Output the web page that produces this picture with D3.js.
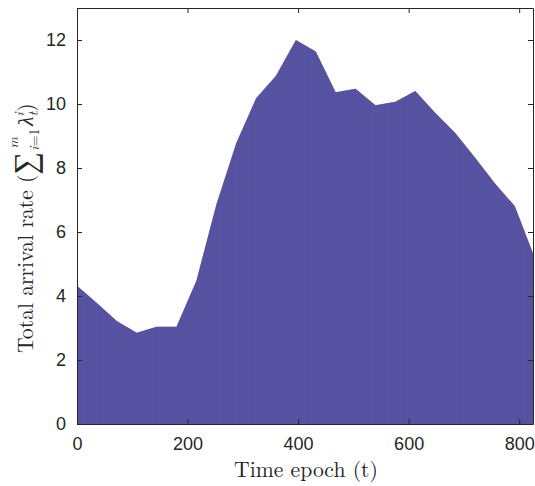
<!DOCTYPE html>
<html>
<head>
<meta charset="utf-8">
<script src="https://d3js.org/d3.v7.min.js"></script>
<style>
  body { margin: 0; background: #fff; }
  svg { display: block; }
</style>
</head>
<body>
<svg id="chart"></svg>
<script>
// hourly vertices of the total arrival rate
const epochs = [0, 36, 72, 108, 144, 180, 216, 252, 288, 324, 360, 396,
                432, 468, 504, 540, 576, 612, 648, 684, 720, 756, 792, 828];
const rates  = [4.32, 3.78, 3.22, 2.85, 3.04, 3.04, 4.48, 6.85, 8.77, 10.18, 10.88, 12.0,
                11.64, 10.37, 10.48, 9.96, 10.07, 10.41, 9.73, 9.1, 8.33, 7.52, 6.81, 5.2];
const xTicks = [0, 200, 400, 600, 800];
const yTicks = [0, 2, 4, 6, 8, 10, 12];

const width = 535, height = 486;
const margin = {top: 8, right: 2, bottom: 62, left: 77};
const innerW = width - margin.left - margin.right;
const innerH = height - margin.top - margin.bottom;

const svg = d3.select('#chart').attr('width', width).attr('height', height);
const chart = svg.append('g').attr('transform', `translate(${margin.left},${margin.top})`);

const x = d3.scaleLinear().domain([0, 825]).range([0, innerW]);
const y = d3.scaleLinear().domain([0, 13]).range([innerH, 0]);

const data = epochs.map((t, i) => ({t: t, v: rates[i]}));

const defs = svg.append('defs');
defs.append('clipPath').attr('id', 'plotclip')
  .append('rect').attr('width', innerW).attr('height', innerH);

const area = d3.area().x(d => x(d.t)).y0(innerH).y1(d => y(d.v));
defs.append('clipPath').attr('id', 'areaclip')
  .append('path').attr('d', area(data));

const body = chart.append('g').attr('clip-path', 'url(#plotclip)');
body.append('path')
  .attr('d', area(data))
  .attr('fill', '#6c69b0');

// thin bar texture (one bar edge per epoch), clipped to the area outline
const stripes = body.append('g').attr('clip-path', 'url(#areaclip)');
stripes.selectAll('line')
  .data(d3.range(0, 826))
  .join('line')
  .attr('x1', t => x(t))
  .attr('x2', t => x(t))
  .attr('y1', 0)
  .attr('y2', innerH)
  .attr('stroke', '#3f3a92')
  .attr('stroke-width', 0.3);

// axes (MATLAB style box with inward ticks)
const axisColor = '#262626';
const tickFont = '"Liberation Sans", Arial, sans-serif';

const xAxis = chart.append('g')
  .attr('transform', `translate(0,${innerH})`)
  .call(d3.axisBottom(x).tickValues(xTicks).tickSizeInner(-5).tickSizeOuter(0).tickPadding(13));
const yAxis = chart.append('g')
  .call(d3.axisLeft(y).tickValues(yTicks).tickSizeInner(-5).tickSizeOuter(0).tickPadding(11));
const xTop = chart.append('g')
  .call(d3.axisTop(x).tickValues(xTicks).tickSizeInner(-5).tickSizeOuter(0).tickFormat(''));
const yRight = chart.append('g')
  .attr('transform', `translate(${innerW},0)`)
  .call(d3.axisRight(y).tickValues(yTicks).tickSizeInner(-5).tickSizeOuter(0).tickFormat(''));

[xAxis, yAxis, xTop, yRight].forEach(g => {
  g.select('.domain').attr('stroke', axisColor).attr('stroke-width', 1);
  g.selectAll('.tick line').attr('stroke', axisColor);
  g.selectAll('.tick text')
    .attr('fill', '#262626')
    .style('font-family', tickFont)
    .style('font-size', '18px');
});

// axis labels
const serif = '"Latin Modern Roman", "CMU Serif", "Liberation Serif", "DejaVu Serif", serif';

svg.append('text')
  .attr('x', 306)
  .attr('y', 477)
  .attr('text-anchor', 'middle')
  .style('font-family', serif)
  .style('font-size', '21.7px')
  .attr('fill', '#262626')
  .text('Time epoch (t)');

const ylab = svg.append('text')
  .attr('transform', 'translate(33,353) rotate(-90)')
  .attr('text-anchor', 'start')
  .style('font-family', serif)
  .style('font-size', '21.7px')
  .attr('fill', '#262626');
ylab.append('tspan').text('Total arrival rate (');
ylab.append('tspan').style('font-size', '32px').attr('dy', 3).text('\u2211');
ylab.append('tspan').style('font-size', '14px').style('font-style', 'italic').attr('dx', 1).attr('dy', 3).text('i');
ylab.append('tspan').style('font-size', '14px').text('=1');
ylab.append('tspan').style('font-size', '14px').style('font-style', 'italic').attr('dx', -20).attr('dy', -21).text('m');
ylab.append('tspan').style('font-style', 'italic').attr('dx', 11).attr('dy', 15).text('\u03bb');
ylab.append('tspan').style('font-size', '14px').style('font-style', 'italic').attr('dy', -9).text('i');
ylab.append('tspan').style('font-size', '14px').style('font-style', 'italic').attr('dx', -4).attr('dy', 14).text('t');
ylab.append('tspan').attr('dy', -5).text(')');
</script>
</body>
</html>
